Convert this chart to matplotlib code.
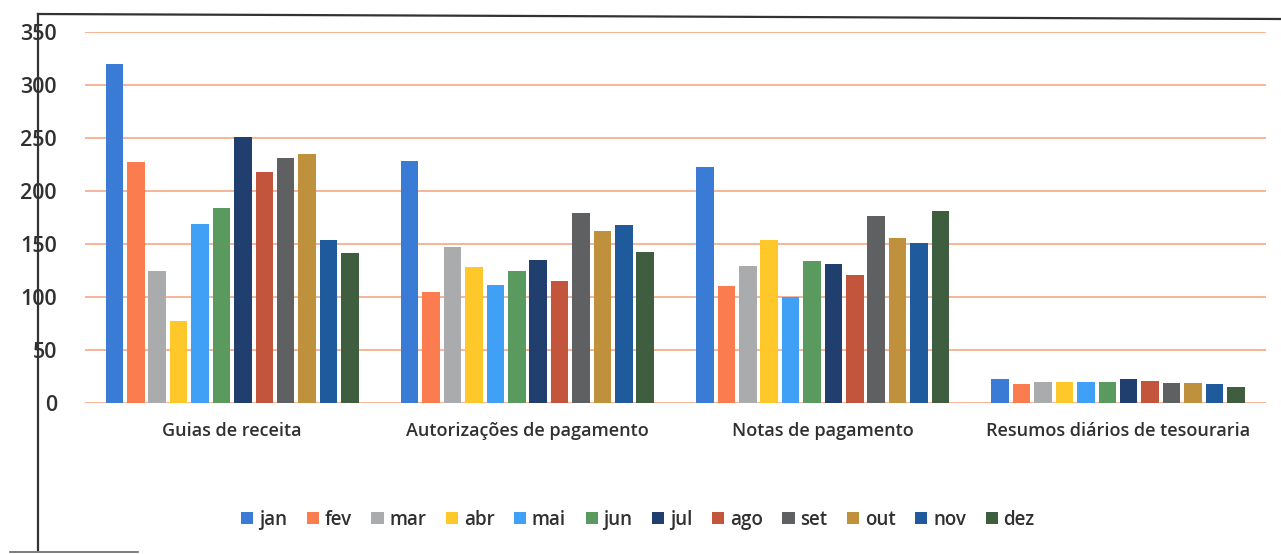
import numpy as np
import matplotlib.pyplot as plt
from matplotlib.lines import Line2D

plt.rcParams['font.family'] = ['Open Sans', 'DejaVu Sans']

categorias = ["Guias de receita", "Autorizações de pagamento",
              "Notas de pagamento", "Resumos diários de tesouraria"]
meses = ["jan", "fev", "mar", "abr", "mai", "jun",
         "jul", "ago", "set", "out", "nov", "dez"]
cores = ["#3a7bd5", "#fb7d4f", "#a9abad", "#ffc82a", "#3fa0f5", "#5b9a5e",
         "#203f6e", "#c2553b", "#5f6062", "#c0913c", "#1f5a9c", "#3f5e40"]

guias = [320, 227, 124, 77, 169, 184, 251, 218, 231, 235, 154, 141]
autorizacoes = [228, 105, 147, 128, 111, 124, 135, 115, 179, 162, 168, 142]
notas = [223, 110, 129, 154, 100, 134, 131, 121, 176, 156, 151, 181]
resumos = [22, 18, 20, 20, 20, 20, 22, 21, 19, 19, 18, 15]

valores = np.array([guias, autorizacoes, notas, resumos])

W, H = 1281, 554
fig = plt.figure(figsize=(W / 100, H / 100), dpi=100)
ax = fig.add_axes([0.066, 0.273, 0.922, 0.669])

x = np.arange(len(categorias))
slot = 0.87 / len(meses)
for i, mes in enumerate(meses):
    pos = x - 0.435 + slot * (i + 0.5)
    ax.bar(pos, valores[:, i], width=slot * 0.82, color=cores[i], label=mes, zorder=3)

ax.set_xlim(-0.5, len(categorias) - 0.5)
ax.set_ylim(0, 350)
ax.set_yticks(range(0, 351, 50))
ax.yaxis.grid(True, color="#f3a07c", linewidth=1.1, zorder=0)
ax.set_axisbelow(True)
for s in ax.spines.values():
    s.set_visible(False)
ax.tick_params(axis='y', length=0, labelsize=15.5, labelcolor="#303030", pad=20)
ax.tick_params(axis='x', length=0, labelsize=13, labelcolor="#303030", pad=14)
for t in ax.get_yticklabels() + ax.get_xticklabels():
    t.set_fontweight('semibold')
ax.set_xticks(x)
ax.set_xticklabels(categorias)

leg = fig.legend(loc='center', bbox_to_anchor=(0.498, 0.062), ncol=12, frameon=False,
                 fontsize=13.5, handlelength=0.65, handleheight=0.65, handletextpad=0.3,
                 columnspacing=1.05, labelcolor="#303030")
for t in leg.get_texts():
    t.set_fontweight('semibold')

# moldura do gráfico (digitalizado)
borda = dict(transform=fig.transFigure, color="#333333", linewidth=1.6)
fig.add_artist(Line2D([38 / W, 38 / W], [1 - 550 / H, 1 - 14 / H], **borda))
fig.add_artist(Line2D([38 / W, 1.0], [1 - 14 / H, 1 - 19 / H], **borda))
fig.add_artist(Line2D([10 / W, 138 / W], [1 - 552 / H, 1 - 552 / H],
                      transform=fig.transFigure, color="#666666", linewidth=1.2))

fig.savefig("out.png", dpi=100)
